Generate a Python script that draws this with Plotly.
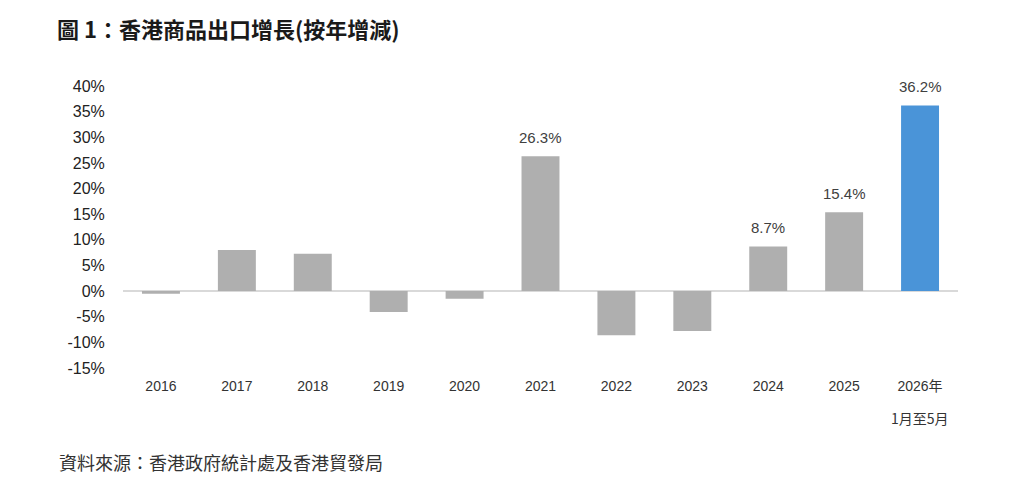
import plotly.graph_objects as go

categories = ["2016", "2017", "2018", "2019", "2020", "2021", "2022", "2023", "2024", "2025", "2026"]
tick_labels = ["2016", "2017", "2018", "2019", "2020", "2021", "2022", "2023", "2024", "2025", "2026年"]
values = [-0.5, 8.0, 7.3, -4.1, -1.5, 26.3, -8.6, -7.8, 8.7, 15.4, 36.2]
label_years = ["2021", "2024", "2025", "2026"]
y_ticks = [-15, -10, -5, 0, 5, 10, 15, 20, 25, 30, 35, 40]

GRAY = "#AFAFAF"
BLUE = "#4A94D8"
colors = [BLUE if c == "2026" else GRAY for c in categories]

W, H = 1013, 487
L, R, T, B = 123, 55, 86, 119
PW, PH = W - L - R, H - T - B

fig = go.Figure()
fig.add_trace(go.Bar(
    x=categories, y=values, marker=dict(color=colors, line=dict(width=0)),
    showlegend=False, hoverinfo="skip",
))

for i, (c, v) in enumerate(zip(categories, values)):
    if c in label_years:
        fig.add_annotation(
            x=i, y=v, text=f"{v:.1f}%", showarrow=False, yanchor="bottom", yshift=8,
            font=dict(family="Liberation Sans, Arial", size=15, color="#404040"),
        )

fig.add_annotation(
    x=categories.index("2026"), y=0, yref="paper", text="1月至5月", showarrow=False,
    yanchor="top", yshift=-38,
    font=dict(family="Noto Sans CJK TC, Liberation Sans", size=14, color="#333333"),
)

fig.update_layout(
    width=W, height=H,
    margin=dict(l=L, r=R, t=T, b=B),
    paper_bgcolor="white", plot_bgcolor="white",
    bargap=0.5,
    title=dict(
        text="<b>圖 1：香港商品出口增長(按年增減)</b>",
        x=57 / W, xanchor="left", y=1 - 30 / H, yanchor="middle",
        font=dict(family="Noto Sans CJK TC, Liberation Sans", size=22, color="#1a1a1a"),
    ),
    xaxis=dict(
        type="category", range=[-0.5, len(categories) - 0.5],
        tickmode="array", tickvals=categories, ticktext=tick_labels,
        showgrid=False, showline=False, zeroline=False,
        ticks="outside", ticklen=5, tickcolor="rgba(0,0,0,0)",
        tickfont=dict(family="Liberation Sans, Noto Sans CJK TC", size=14, color="#333333"),
    ),
    yaxis=dict(
        range=[-15, 40], tickmode="array", tickvals=y_ticks,
        ticktext=[f"{t}%" for t in y_ticks],
        showgrid=False, showline=False, zeroline=True, zerolinecolor="#D9D9D9", zerolinewidth=1.5,
        ticks="outside", ticklen=14, tickcolor="rgba(0,0,0,0)",
        tickfont=dict(family="Liberation Sans, Arial", size=16, color="#222222"),
    ),
)

fig.add_annotation(
    x=(57 - L) / PW, xref="paper", xanchor="left", y=-(462 - (T + PH)) / PH, yref="paper", yanchor="middle",
    text="資料來源：香港政府統計處及香港貿發局", showarrow=False,
    font=dict(family="Noto Sans CJK TC, Liberation Sans", size=18, color="#333333"),
)

fig.write_html("out.html")
